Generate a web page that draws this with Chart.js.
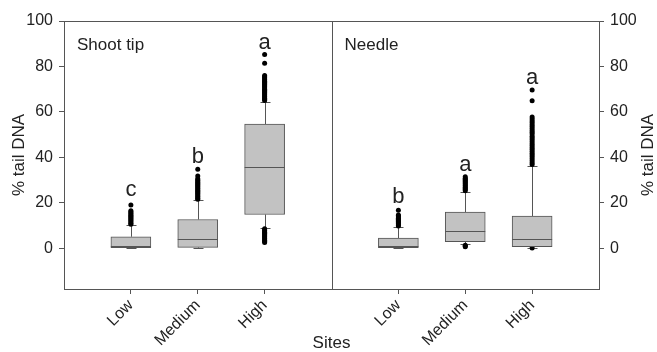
<!DOCTYPE html>
<html>
<head>
<meta charset="utf-8">
<script src="https://cdn.jsdelivr.net/npm/chart.js@4.4.1/dist/chart.umd.min.js"></script>
<style>
  html, body { margin: 0; padding: 0; background: #fff; }
</style>
</head>
<body>
<canvas id="chart" width="657" height="352"></canvas>
<script>
// ===== DATA =====
const panels = ["Shoot tip", "Needle"];
const sites = ["Low", "Medium", "High"];
const yTicks = [0, 20, 40, 60, 80, 100];

// one entry per box: Shoot tip Low/Medium/High, then Needle Low/Medium/High
const q1 = [0, 0.3, 14.8, 0, 2.8, 0.6];
const median = [1, 4, 35.5, 0.8, 7.5, 4];
const q3 = [5, 12.6, 54.6, 4.4, 15.9, 14.1];
const whiskerLow = [0, 0, 8.7, 0, 1.8, 0];
const whiskerHigh = [10, 21.1, 64.5, 9.2, 24.8, 36.2];
const letters = ["c", "b", "a", "b", "a", "a"];
const letterY = [25.5, 40.2, 90.2, 22.6, 36.6, 75];

const outliers = [
  [10.5, 11, 11.5, 12, 12.5, 13, 13.5, 14, 14.5, 15, 15.5, 16, 16.5, 19],
  [21.5, 22, 22.5, 23, 23.5, 24, 24.5, 25, 25.5, 26, 26.5, 27, 27.5, 28, 28.5, 29, 29.5, 30, 30.5, 31.7, 34.7],
  [2.5, 3, 3.5, 4, 4.5, 5, 5.5, 6, 6.5, 7, 7.5, 8, 8.5,
   65, 65.5, 66, 66.5, 67, 67.5, 68, 68.5, 69, 69.5, 70, 70.5, 71, 71.5, 72, 72.5, 73, 73.5, 74, 74.5, 75, 75.5, 76, 81.4, 85.3],
  [9.7, 10.2, 10.7, 11.2, 11.7, 12.2, 12.7, 13.2, 13.7, 14.2, 14.6, 16.7],
  [0.6, 0.9, 1.3, 25.3, 25.8, 26.3, 26.8, 27.3, 27.8, 28.3, 28.8, 29.3, 29.8, 30.3, 30.8, 31.4],
  [0, 36.8, 37.6, 38.5, 39.3, 40.2, 41, 41.8, 42.7, 43.5, 44.3, 45.2, 46, 46.8, 47.7, 48.5, 49.3, 50.2, 51, 51.8, 52.7, 53.5, 54.3, 55.2, 56, 56.8, 57.7, 64.9, 69.6]
];

// x position of each box: panels are 4 units wide, sites at 1..3 inside them
const boxX = [];
panels.forEach((p, pi) => sites.forEach((s, si) => boxX.push(pi * 4 + si + 1)));

const boxData = boxX.map((x, i) => ({ x: x, y: [q1[i], q3[i]] }));
const outlierData = [];
outliers.forEach((list, i) => list.forEach(v => outlierData.push({ x: boxX[i], y: v })));

const FONT = "'Liberation Sans', Arial, sans-serif";
const INK = "#222";
const LINE = "#555";
Chart.defaults.font.family = FONT;
Chart.defaults.color = INK;

// whiskers, caps, medians, letters, panel names, frame
const boxPlot = {
  id: "boxPlot",
  beforeDatasetsDraw(chart) {
    const { ctx, scales: { x, y } } = chart;
    ctx.save();
    ctx.strokeStyle = LINE;
    ctx.lineWidth = 1;
    boxX.forEach((bx, i) => {
      const px = Math.round(x.getPixelForValue(bx)) + 0.5;
      [[q3[i], whiskerHigh[i]], [q1[i], whiskerLow[i]]].forEach(([from, to]) => {
        ctx.beginPath();
        ctx.moveTo(px, y.getPixelForValue(from));
        ctx.lineTo(px, y.getPixelForValue(to));
        ctx.stroke();
        const py = Math.round(y.getPixelForValue(to)) + 0.5;
        ctx.beginPath();
        ctx.moveTo(px - 5, py);
        ctx.lineTo(px + 5, py);
        ctx.stroke();
      });
    });
    ctx.restore();
  },
  afterDatasetsDraw(chart) {
    const { ctx, chartArea: a, scales: { x, y } } = chart;
    ctx.save();
    ctx.strokeStyle = LINE;
    ctx.lineWidth = 1;

    // medians
    boxX.forEach((bx, i) => {
      const px = x.getPixelForValue(bx);
      const py = Math.round(y.getPixelForValue(median[i])) + 0.5;
      ctx.beginPath();
      ctx.moveTo(px - 20, py);
      ctx.lineTo(px + 20, py);
      ctx.stroke();
    });

    // frame + divider between panels
    const divX = Math.round(x.getPixelForValue(4)) + 0.5;
    ctx.strokeRect(Math.round(a.left) + 0.5, Math.round(a.top) + 0.5,
      Math.round(a.width), Math.round(a.height));
    ctx.beginPath();
    ctx.moveTo(divX, a.top);
    ctx.lineTo(divX, a.bottom);
    ctx.stroke();

    // significance letters
    ctx.fillStyle = INK;
    ctx.textAlign = "center";
    ctx.textBaseline = "middle";
    ctx.font = "22px " + FONT;
    boxX.forEach((bx, i) => {
      ctx.fillText(letters[i], x.getPixelForValue(bx), y.getPixelForValue(letterY[i]));
    });

    // panel names
    ctx.textAlign = "left";
    ctx.font = "17px " + FONT;
    panels.forEach((p, pi) => {
      ctx.fillText(p, x.getPixelForValue(pi * 4) + 13, a.top + 24);
    });

    // right axis title, reads bottom to top like the left one
    ctx.translate(chart.width - 9, (a.top + a.bottom) / 2);
    ctx.rotate(-Math.PI / 2);
    ctx.textAlign = "center";
    ctx.fillText("% tail DNA", 0, 0);
    ctx.restore();
  }
};

const yAxis = (pos, width) => ({
  position: pos,
  min: -18,
  max: 100,
  afterBuildTicks(s) { s.ticks = yTicks.map(v => ({ value: v })); },
  ticks: { font: { size: 16 }, padding: 6, color: INK },
  grid: { drawOnChartArea: false, tickLength: 5, color: LINE },
  border: { color: LINE },
  afterFit(s) { s.width = width; }
});

const leftY = yAxis("left", 64);
leftY.title = { display: true, text: "% tail DNA", font: { size: 17, lineHeight: 1 }, padding: { top: 11 }, color: INK };

new Chart(document.getElementById("chart"), {
  type: "bar",
  data: {
    datasets: [
      {
        type: "bar",
        data: boxData,
        backgroundColor: "#c2c2c2",
        borderColor: LINE,
        borderWidth: 1,
        borderSkipped: false,
        barThickness: 40
      },
      {
        type: "scatter",
        data: outlierData,
        pointRadius: 2.5,
        pointBackgroundColor: "#000",
        pointBorderWidth: 0
      }
    ]
  },
  options: {
    responsive: false,
    animation: false,
    layout: { padding: { top: 21, left: 0, right: 0, bottom: 0 } },
    plugins: { legend: { display: false }, tooltip: { enabled: false } },
    scales: {
      x: {
        type: "linear",
        min: 0,
        max: 8,
        offset: false,
        afterBuildTicks(s) { s.ticks = boxX.map(v => ({ value: v })); },
        ticks: {
          autoSkip: false,
          minRotation: 45,
          maxRotation: 45,
          padding: 2,
          font: { size: 16 },
          color: INK,
          callback: (v, i) => sites[i % 3]
        },
        grid: { drawOnChartArea: false, offset: false, tickLength: 5, color: LINE },
        border: { color: LINE },
        title: { display: true, text: "Sites", font: { size: 17, lineHeight: 1 }, padding: 0, color: INK },
        afterFit(s) { s.height = 63; }
      },
      y: leftY,
      y2: yAxis("right", 58)
    }
  },
  plugins: [boxPlot]
});
</script>
</body>
</html>
